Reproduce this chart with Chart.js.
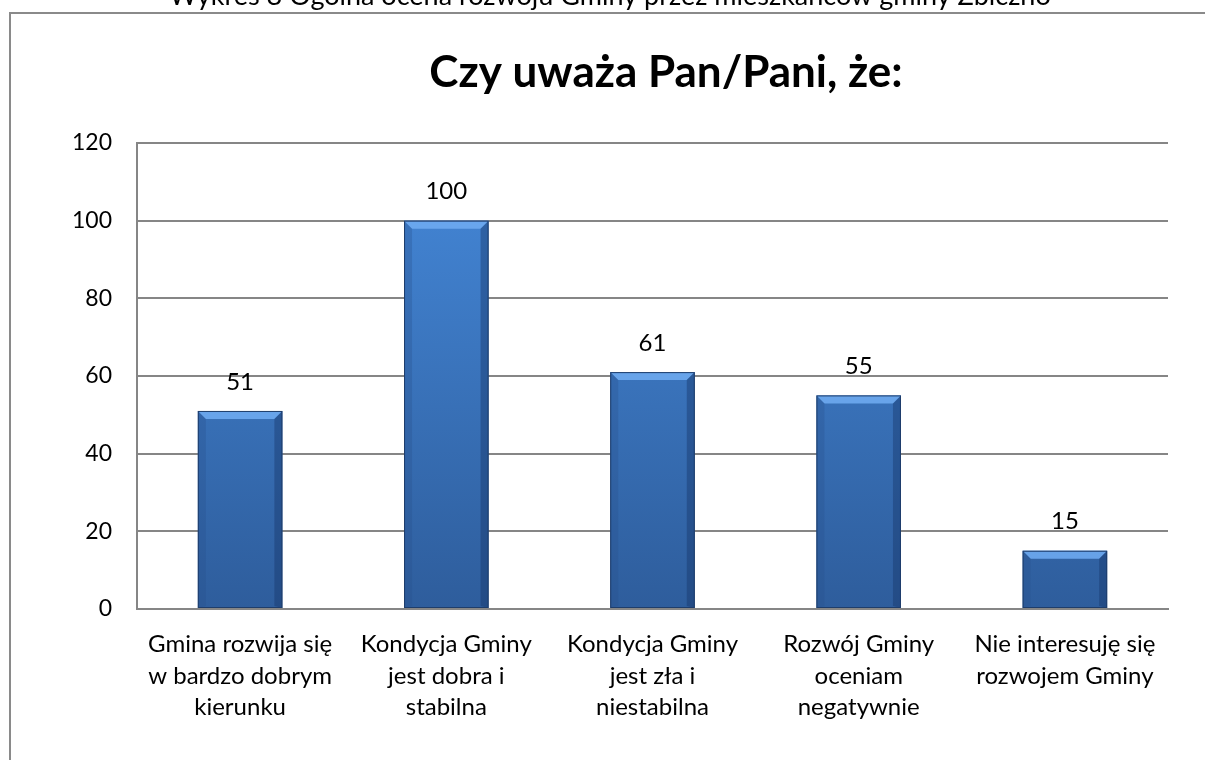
<!DOCTYPE html>
<html>
<head>
<meta charset="utf-8">
<script src="https://cdn.jsdelivr.net/npm/chart.js@4.4.0/dist/chart.umd.min.js"></script>
<style>
  html,body{margin:0;padding:0;background:#fff;overflow:hidden;}
  #wrap{position:absolute;left:0;top:0;width:1205px;height:760px;}
  #frame{position:absolute;left:9px;top:12px;width:1300px;height:900px;border:2px solid #8a8a8a;box-sizing:border-box;}
  canvas{position:absolute;left:0;top:0;}
</style>
</head>
<body>
<div id="wrap">
  <div id="frame"></div>
  <canvas id="c" width="1205" height="760"></canvas>
</div>
<script>
const caption = "Wykres 8 Ogólna ocena rozwoju Gminy przez mieszkańców gminy Zbiczno";
const chartTitle = "Czy uważa Pan/Pani, że:";
const categories = [
  ["Gmina rozwija się", "w bardzo dobrym", "kierunku"],
  ["Kondycja Gminy", "jest dobra i", "stabilna"],
  ["Kondycja Gminy", "jest zła i", "niestabilna"],
  ["Rozwój Gminy", "oceniam", "negatywnie"],
  ["Nie interesuję się", "rozwojem Gminy"]
];
const values = [51, 100, 61, 55, 15];
const yTicks = [0, 20, 40, 60, 80, 100, 120];

const FONT = "Lato, 'Open Sans', sans-serif";

const deco = {
  id: 'deco',
  afterDraw(chart) {
    const ctx = chart.ctx;
    ctx.save();
    ctx.fillStyle = '#000';
    ctx.font = "27px " + FONT;
    ctx.textAlign = 'center';
    ctx.textBaseline = 'alphabetic';
    ctx.fillText(caption, 610, 5);
    ctx.font = "bold 44px " + FONT;
    ctx.fillText(chartTitle, 666, 87);
    ctx.restore();
  },
  afterDatasetsDraw(chart) {
    const ctx = chart.ctx;
    const meta = chart.getDatasetMeta(0);
    ctx.save();
    meta.data.forEach((bar, i) => {
      const {x, y, base, width} = bar.getProps(['x','y','base','width'], true);
      const l = x - width/2, r = x + width/2, t = y, b = base;
      const bv = 8;
      ctx.beginPath();
      ctx.moveTo(l, t); ctx.lineTo(r, t); ctx.lineTo(r - bv, t + bv); ctx.lineTo(l + bv, t + bv); ctx.closePath();
      ctx.fillStyle = 'rgba(110,170,240,0.9)';
      ctx.fill();
      ctx.beginPath();
      ctx.moveTo(l, t); ctx.lineTo(l + bv, t + bv); ctx.lineTo(l + bv, b - 2); ctx.lineTo(l, b); ctx.closePath();
      ctx.fillStyle = 'rgba(40,80,140,0.3)';
      ctx.fill();
      ctx.beginPath();
      ctx.moveTo(r, t); ctx.lineTo(r - bv, t + bv); ctx.lineTo(r - bv, b - 2); ctx.lineTo(r, b); ctx.closePath();
      ctx.fillStyle = 'rgba(20,50,100,0.4)';
      ctx.fill();
      ctx.strokeStyle = '#1e3d6b';
      ctx.lineWidth = 1;
      ctx.strokeRect(l + 0.5, t + 0.5, width - 1, b - t - 1);
      ctx.fillStyle = '#000';
      ctx.font = "24px " + FONT;
      ctx.textAlign = 'center';
      ctx.textBaseline = 'middle';
      ctx.fillText(String(values[i]), x, t - 29);
    });
    ctx.restore();
  }
};

new Chart(document.getElementById('c'), {
  type: 'bar',
  data: {
    labels: categories,
    datasets: [{
      data: values,
      backgroundColor(context) {
        const chart = context.chart;
        const area = chart.chartArea;
        if (!area) return '#3b74c0';
        const g = chart.ctx.createLinearGradient(0, area.top, 0, area.bottom);
        g.addColorStop(0, '#4589da');
        g.addColorStop(1, '#2e5d9c');
        return g;
      },
      borderWidth: 0,
      categoryPercentage: 1,
      barPercentage: 0.41
    }]
  },
  options: {
    responsive: false,
    animation: false,
    devicePixelRatio: 1,
    layout: { padding: { left: 20, right: 37, top: 143, bottom: 0 } },
    plugins: { legend: { display: false }, tooltip: { enabled: false }, title: { display: false } },
    scales: {
      x: {
        grid: { display: false, drawTicks: false },
        border: { display: true, color: '#868686', width: 2 },
        ticks: {
          color: '#000',
          font: { family: FONT, size: 24, lineHeight: 1.31 },
          padding: 20,
          maxRotation: 0,
          autoSkip: false
        },
        afterFit(scale) { scale.height = 151; }
      },
      y: {
        min: 0, max: 120,
        afterBuildTicks(scale) { scale.ticks = yTicks.map(v => ({ value: v })); },
        grid: { color: '#868686', lineWidth: 2, drawTicks: false },
        border: { display: true, color: '#868686', width: 2 },
        ticks: {
          color: '#000',
          font: { family: FONT, size: 23 },
          padding: 25
        },
        afterFit(scale) { scale.width = 117; }
      }
    }
  },
  plugins: [deco]
});
</script>
</body>
</html>
